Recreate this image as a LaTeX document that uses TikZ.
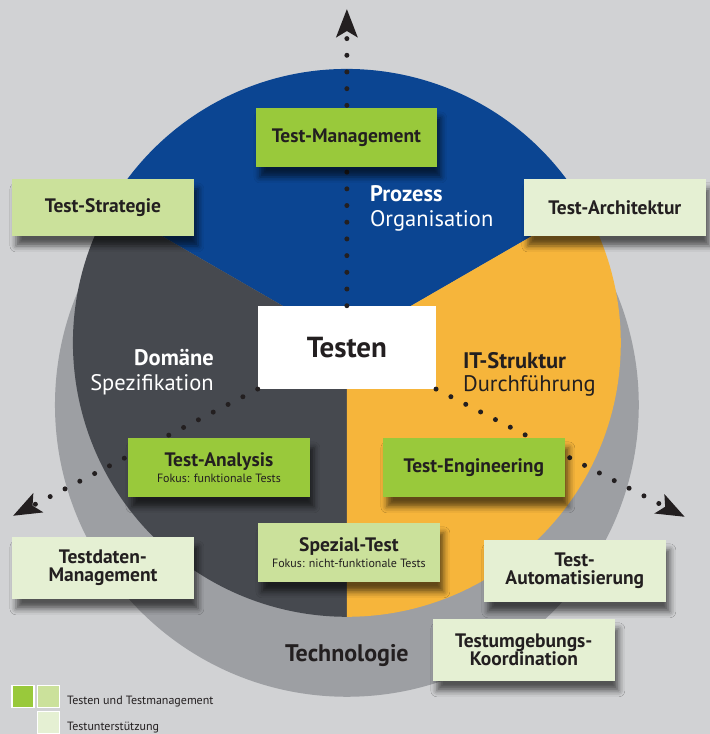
\documentclass[tikz,border=0pt]{standalone}
\usepackage{fontspec}
\setmainfont{PT Sans}
\usetikzlibrary{arrows.meta,shadows.blur}

\definecolor{bggrey}{HTML}{D1D2D4}
\definecolor{techgrey}{HTML}{9D9FA3}
\definecolor{prozblue}{HTML}{0B4592}
\definecolor{domdark}{HTML}{46494F}
\definecolor{itorange}{HTML}{F6B53B}
\definecolor{grnstrong}{HTML}{99C93B}
\definecolor{grnlight}{HTML}{CBE19B}
\definecolor{grnpale}{HTML}{E5F0D3}
\definecolor{txtdark}{HTML}{231F20}

\begin{document}
\begin{tikzpicture}[x=1pt,y=-1pt,
  box/.style={minimum width=182pt,minimum height=59pt,inner sep=0pt,align=center,
    text=txtdark,font=\fontsize{19.5}{18}\selectfont\bfseries,
    blur shadow={shadow xshift=4pt,shadow yshift=-10pt,shadow blur radius=6pt,shadow opacity=60}},
  tallbox/.style={box,minimum height=62pt},
  shortbox/.style={box,minimum height=57pt},
  dotline/.style={txtdark,line width=5pt,line cap=round,dash pattern=on 0pt off 16.7pt,
    -{Stealth[length=28pt,width=21pt,inset=6pt,line cap=butt]}},
  sectitle/.style={font=\fontsize{22.5}{24}\selectfont\bfseries,inner sep=0pt},
  secsub/.style={font=\fontsize{22.5}{24}\selectfont,inner sep=0pt},
  legsq/.style={draw=white,line width=1.5pt,minimum size=22pt,inner sep=0pt},
  legtext/.style={font=\fontsize{12}{14}\selectfont,text=txtdark,inner sep=0pt,anchor=base west}]
\fill[bggrey] (0,0) rectangle (710,734);
\fill[techgrey] (347,405) circle[radius=292pt];
\fill[prozblue] (347,343) -- ++(30:274pt) arc[start angle=30,end angle=150,radius=274pt] -- cycle;
\fill[domdark] (347,343) -- ++(150:274pt) arc[start angle=150,end angle=270,radius=274pt] -- cycle;
\fill[itorange] (347,343) -- ++(270:274pt) arc[start angle=270,end angle=390,radius=274pt] -- cycle;

\node[fill=white,minimum width=178pt,minimum height=83pt,inner sep=0pt,text=txtdark,
  font=\fontsize{29}{30}\selectfont\bfseries] (testen) at (347,347.5) {Testen};

\coordinate (topend) at (347,9);
\coordinate (leftend) at (13,516);
\coordinate (rightend) at (685,517);
\draw[dotline] (testen.north) -- (topend);
\draw[dotline] (testen.south west) -- (leftend);
\draw[dotline] (testen.south east) -- (rightend);

\node[sectitle,text=white,anchor=base west] (prozess) at (370,202) {Prozess};
\node[secsub,text=white,anchor=base west] (organisation) at (370,227) {Organisation};
\node[sectitle,text=white,anchor=base east] (domaene) at (214,366) {Domäne};
\node[secsub,text=white,anchor=base east] (spezifikation) at (214,391) {Spezifikation};
\node[sectitle,text=txtdark,anchor=base west] (itstruktur) at (463,369) {IT-Struktur};
\node[secsub,text=txtdark,anchor=base west] (durchfuehrung) at (463,392) {Durchführung};
\node[font=\fontsize{24}{26}\selectfont\bfseries,text=txtdark] (technologie) at (347,656) {Technologie};

\node[box,fill=grnstrong,minimum width=181pt] (management) at (346.5,137.5) {Test-Management};
\node[shortbox,fill=grnlight] (strategie) at (103,207.5) {Test-Strategie};
\node[shortbox,fill=grnpale] (architektur) at (615,207.5) {Test-Architektur};
\node[box,fill=grnstrong] (analysis) at (219,467.5) {Test-Analysis\\[-2pt]{\fontsize{12}{13}\selectfont\mdseries Fokus: funktionale Tests}};
\node[box,fill=grnstrong] (engineering) at (474,467.5) {Test-Engineering};
\node[box,fill=grnlight] (spezial) at (349,552.5) {Spezial-Test\\[-2pt]{\fontsize{12}{13}\selectfont\mdseries Fokus: nicht-funktionale Tests}};
\node[tallbox,fill=grnpale] (testdaten) at (103,568) {Testdaten-\\Management};
\node[tallbox,fill=grnpale] (automatisierung) at (575,571) {Test-\\Automatisierung};
\node[tallbox,fill=grnpale] (umgebung) at (524,650) {Testumgebungs-\\Koordination};

\node[legsq,fill=grnstrong] (legstrong) at (23,696.5) {};
\node[legsq,fill=grnlight] (leglight) at (48.5,696.5) {};
\node[legsq,fill=grnpale] (legpale) at (48.5,722.5) {};
\node[legtext] (legtexta) at (67,705) {Testen und Testmanagement};
\node[legtext] (legtextb) at (67,731) {Testunterstützung};
\end{tikzpicture}
\end{document}
